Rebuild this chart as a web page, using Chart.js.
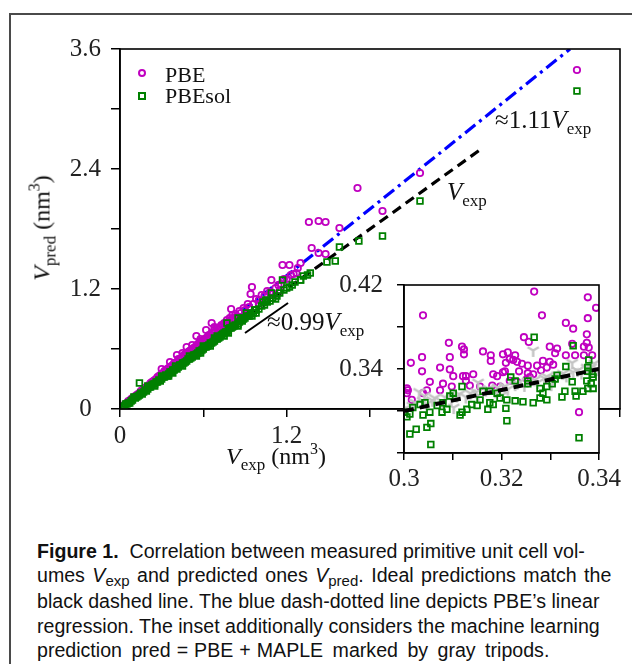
<!DOCTYPE html>
<html>
<head>
<meta charset="utf-8">
<script src="https://cdn.jsdelivr.net/npm/chart.js@4"></script>
<style>
  html,body{margin:0;padding:0;background:#fff;}
  body{width:632px;height:664px;position:relative;overflow:hidden;font-family:"Liberation Serif","Times New Roman",serif;color:#111;}
  #frame{position:absolute;left:9px;top:13px;width:800px;height:800px;border:2px solid #4a4a4a;box-sizing:border-box;}
  canvas{position:absolute;}
  .t{position:absolute;white-space:nowrap;font-family:"Liberation Serif",serif;line-height:24px;}
  .sub{font-size:17px;position:relative;top:6px;}
  .sup{font-size:16px;position:relative;top:-10px;}
  #cap{position:absolute;left:37px;top:539px;font-family:"Liberation Sans",Arial,sans-serif;font-size:19.6px;line-height:24.2px;color:#111;white-space:nowrap;}
  #cap .s{font-size:15px;position:relative;top:4px;}
  #cap .m{padding:0 6px;}
  #cap .l2{word-spacing:2px;}
  #cap .l5{word-spacing:4px;}
  .mk{position:absolute;box-sizing:border-box;}
</style>
</head>
<body>
<div id="frame"></div>
<canvas id="main" width="632" height="520" style="left:0;top:0;"></canvas>
<canvas id="inset" width="312" height="250" style="left:320px;top:256px;"></canvas>

<!-- legend -->
<div class="mk" style="left:138px;top:69px;width:8px;height:8px;border:2px solid #c000c0;border-radius:50%;"></div>
<div class="mk" style="left:138px;top:92px;width:8px;height:8px;border:2px solid #008000;"></div>
<div class="t" style="left:165px;top:63px;font-size:22px;">PBE</div>
<div class="t" style="left:165px;top:84px;font-size:22px;">PBEsol</div>

<!-- annotations -->
<div class="t" style="left:495px;top:108px;font-size:25px;">≈1.11<i>V</i><span class="sub">exp</span></div>
<div class="t" style="left:447px;top:180px;font-size:25px;"><i>V</i><span class="sub">exp</span></div>
<div class="t" style="left:267px;top:310px;font-size:25px;">≈0.99<i>V</i><span class="sub">exp</span></div>

<!-- axis titles -->
<div class="t" style="left:226px;top:444px;font-size:24px;"><i>V</i><span class="sub">exp</span> (nm<span class="sup">3</span>)</div>
<div class="t" style="left:43px;top:228px;font-size:24px;transform:translate(-50%,-50%) rotate(-90deg);"><i>V</i><span class="sub">pred</span> (nm<span class="sup">3</span>)</div>

<div id="cap"><b>Figure 1.</b>&nbsp; Correlation between measured primitive unit cell vol-<br><span class="l2">umes <i>V</i><span class="s">exp</span> and predicted ones <i>V</i><span class="s">pred</span>. Ideal predictions match the</span><br>black dashed line. The blue dash-dotted line depicts PBE’s linear<br>regression. The inset additionally considers the machine learning<br><span class="l5">prediction pred<span class="m">=</span>PBE<span class="m">+</span>MAPLE marked by gray tripods.</span></div>

<script>
// ---------------- data ----------------
const mainYTickLabels = ['0', '1.2', '2.4', '3.6'];
const mainXTickLabels = ['0', '1.2'];
const insetXTickLabels = ['0.3', '0.32', '0.34'];
const insetYTickLabels = ['0.34', '0.42'];

const pbeMain = [
 [0.03,0.04],[0.05,0.06],[0.07,0.08],[0.08,0.10],[0.10,0.12],[0.12,0.14],[0.14,0.16],[0.15,0.18],[0.17,0.20],[0.19,0.22],
 [0.21,0.24],[0.22,0.26],[0.24,0.28],[0.26,0.30],[0.27,0.32],[0.29,0.34],[0.31,0.36],[0.32,0.38],[0.34,0.40],[0.36,0.42],
 [0.37,0.43],[0.39,0.46],[0.41,0.47],[0.42,0.50],[0.44,0.51],[0.46,0.54],[0.47,0.55],[0.49,0.57],[0.51,0.59],[0.53,0.61],
 [0.55,0.63],[0.56,0.65],[0.58,0.67],[0.60,0.69],[0.62,0.71],[0.63,0.72],[0.65,0.74],[0.67,0.76],[0.69,0.78],[0.71,0.80],
 [0.72,0.82],[0.74,0.83],[0.76,0.85],[0.78,0.87],[0.80,0.89],[0.82,0.91],[0.84,0.93],[0.87,0.96],[0.90,0.99],[0.93,1.02],
 [0.96,1.05],[1.00,1.09],[1.04,1.13],[1.08,1.17],[1.12,1.21],[1.16,1.25],[1.20,1.30],[1.25,1.35],
 [0.04,0.05],[0.06,0.08],[0.09,0.11],[0.11,0.13],[0.13,0.15],[0.16,0.19],[0.18,0.21],[0.20,0.23],[0.23,0.27],[0.25,0.29],
 [0.28,0.33],[0.30,0.35],[0.33,0.39],[0.35,0.41],[0.38,0.44],[0.40,0.46],[0.43,0.50],[0.45,0.52],[0.48,0.56],[0.50,0.58],
 [0.52,0.60],[0.54,0.62],[0.57,0.66],[0.59,0.68],[0.61,0.70],[0.64,0.74],[0.66,0.76],[0.68,0.79],[0.70,0.81],[0.73,0.84],
 [0.75,0.86],[0.77,0.89],[0.79,0.91],[0.83,0.95],[0.86,0.98],[0.89,1.01],[0.92,1.05],[0.98,1.10],[1.02,1.14],[1.06,1.18],
 [1.14,1.24],[1.18,1.30],[1.23,1.34],[0.58,0.70],[0.52,0.64],[0.45,0.56],
 [0.20,0.21],[0.30,0.32],[0.40,0.43],[0.50,0.53],[0.60,0.64],[0.70,0.74],[0.80,0.85],[0.90,0.95],[1.00,1.05],[1.10,1.15],
 [0.30,0.40],[0.36,0.47],[0.41,0.54],[0.48,0.62],[0.55,0.73],[0.62,0.79],[0.66,0.86],[0.68,0.82],[0.80,1.00],[0.81,0.94],
 [0.94,1.15],[0.95,1.22],[1.09,1.29],[1.15,1.19],[1.17,1.44],[1.22,1.44],[1.27,1.36],[1.28,1.41],[1.30,1.46],[1.38,1.61],
 [1.43,1.56],[1.48,1.55],[1.36,1.87],[1.43,1.88],[1.48,1.87],[1.58,1.81],[1.71,2.21],[1.89,1.98],[2.16,2.36],[3.29,3.39]
];

const pbesolMain = [
 [0.02,0.02],[0.03,0.03],[0.05,0.05],[0.06,0.06],[0.08,0.08],[0.09,0.09],[0.11,0.11],[0.12,0.12],[0.14,0.14],[0.15,0.16],
 [0.17,0.17],[0.18,0.19],[0.20,0.20],[0.22,0.22],[0.23,0.24],[0.25,0.25],[0.27,0.27],[0.28,0.29],[0.30,0.30],[0.32,0.32],
 [0.33,0.34],[0.35,0.35],[0.37,0.37],[0.39,0.39],[0.40,0.41],[0.42,0.42],[0.44,0.44],[0.46,0.46],[0.48,0.48],[0.50,0.50],
 [0.52,0.52],[0.54,0.54],[0.56,0.56],[0.58,0.58],[0.60,0.60],[0.62,0.62],[0.64,0.64],[0.66,0.66],[0.68,0.68],[0.70,0.70],
 [0.72,0.72],[0.74,0.75],[0.76,0.77],[0.78,0.79],[0.80,0.81],[0.82,0.83],[0.85,0.85],[0.88,0.88],[0.90,0.91],[0.93,0.93],
 [0.96,0.96],[1.00,1.00],[1.04,1.04],[1.08,1.08],[1.13,1.13],[1.18,1.19],[1.24,1.24],[1.30,1.29],[1.35,1.34],
 [0.04,0.05],[0.07,0.06],[0.13,0.13],[0.16,0.15],[0.19,0.18],[0.21,0.22],[0.24,0.25],[0.26,0.27],[0.29,0.28],[0.31,0.32],
 [0.34,0.33],[0.36,0.37],[0.38,0.39],[0.41,0.40],[0.43,0.44],[0.45,0.46],[0.47,0.47],[0.49,0.50],[0.51,0.51],[0.53,0.54],
 [0.55,0.55],[0.57,0.58],[0.59,0.59],[0.61,0.62],[0.63,0.63],[0.65,0.66],[0.67,0.67],[0.69,0.70],[0.71,0.71],[0.73,0.74],
 [0.75,0.76],[0.77,0.77],[0.79,0.81],[0.81,0.82],[0.83,0.84],[0.86,0.87],[0.87,0.89],[0.89,0.90],[0.92,0.93],[0.94,0.95],
 [0.98,0.99],[1.02,1.03],[1.06,1.07],[1.10,1.11],[1.15,1.16],[1.20,1.21],[1.26,1.27],[1.32,1.33],[0.38,0.36],[0.58,0.56],
 [0.78,0.76],[0.98,0.96],[1.12,1.10],[0.68,0.71],[0.88,0.91],[1.05,1.09],
 [0.10,0.12],[0.20,0.23],[0.30,0.33],[0.40,0.43],[0.50,0.53],[0.60,0.63],[0.70,0.73],[0.25,0.23],[0.35,0.33],[0.45,0.43],
 [0.55,0.53],[0.65,0.63],[0.75,0.73],[0.85,0.83],[0.95,0.93],
 [0.14,0.26],[0.77,0.86],[0.85,0.91],[0.91,0.96],[0.97,0.99],[1.03,1.07],[1.09,1.16],[1.17,1.29],[1.22,1.22],[1.30,1.29],
 [1.37,1.36],[1.49,1.47],[1.55,1.48],[1.58,1.62],[1.72,1.68],[1.89,1.73],[2.16,2.08],[3.29,3.18]
];

const idealLineMain = [[0,0],[2.6,2.6]];
const pbeFitMain = [[0,0],[3.24,3.6]];
const pbesolFitMarker = [[0.90,0.76],[1.21,1.06]];

const pbeInset = [
 [0.3267,0.4137],[0.3377,0.4083],[0.3394,0.3983],[0.3039,0.3911],[0.3283,0.3911],[0.3377,0.3884],[0.3332,0.3839],
 [0.3347,0.3784],[0.3375,0.3730],[0.3246,0.3703],[0.3256,0.3658],[0.3092,0.3649],[0.3375,0.3649],[0.3345,0.3640],
 [0.3119,0.3613],[0.3123,0.3586],[0.3123,0.3540],[0.3162,0.3567],[0.3299,0.3613],[0.3314,0.3595],[0.3310,0.3550],
 [0.3369,0.3613],[0.3379,0.3604],[0.3037,0.3513],[0.3094,0.3513],[0.3178,0.3531],[0.3178,0.3477],[0.3203,0.3540],
 [0.3213,0.3558],[0.3228,0.3531],[0.3217,0.3495],[0.3014,0.3459],[0.3209,0.3459],[0.3224,0.3486],[0.3232,0.3468],
 [0.3242,0.3450],[0.3254,0.3432],[0.3273,0.3432],[0.3285,0.3477],[0.3299,0.3468],[0.3306,0.3441],[0.3293,0.3414],
 [0.3281,0.3387],[0.3332,0.3531],[0.3351,0.3531],[0.3369,0.3531],[0.3386,0.3531],[0.3074,0.3414],[0.3094,0.3396],
 [0.3101,0.3332],[0.3037,0.3378],[0.3191,0.3332],[0.3183,0.3350],[0.3203,0.3369],[0.3207,0.3378],[0.3236,0.3378],
 [0.3254,0.3360],[0.3265,0.3350],[0.3127,0.3332],[0.3142,0.3350],[0.3127,0.3287],[0.3121,0.3332],[0.3053,0.3278],
 [0.3080,0.3260],[0.3098,0.3233],[0.3074,0.3197],[0.3047,0.3197],[0.3039,0.3170],[0.3008,0.3197],[0.3006,0.3170],
 [0.3016,0.3106],[0.3135,0.3242],[0.3156,0.3233],[0.3162,0.3188],[0.3181,0.3242],[0.3197,0.3233],[0.3217,0.3287],
 [0.3232,0.3278],[0.3252,0.3305],[0.3258,0.3323],[0.3359,0.2989],[0.3006,0.3215]
];

const pbesolInset = [
 [0.3267,0.3703],[0.3347,0.3622],[0.3379,0.3486],[0.3332,0.3423],[0.3377,0.3414],[0.3377,0.3378],[0.3386,0.3350],
 [0.3388,0.3323],[0.3375,0.3287],[0.3384,0.3260],[0.3377,0.3215],[0.3388,0.3215],[0.3219,0.3323],[0.3228,0.3287],
 [0.3254,0.3287],[0.3254,0.3260],[0.3314,0.3341],[0.3310,0.3305],[0.3304,0.3260],[0.3293,0.3233],[0.3279,0.3215],
 [0.3285,0.3170],[0.3345,0.3278],[0.3351,0.3188],[0.3353,0.3142],[0.3367,0.3188],[0.3330,0.3188],[0.3324,0.3133],
 [0.3293,0.3106],[0.3279,0.3124],[0.3265,0.3079],[0.3244,0.3088],[0.3228,0.3097],[0.3211,0.3106],[0.3197,0.3124],
 [0.3191,0.3170],[0.3176,0.3188],[0.3162,0.3188],[0.3156,0.3106],[0.3176,0.3079],[0.3183,0.3061],[0.3172,0.3016],
 [0.3209,0.3025],[0.3211,0.2907],[0.3119,0.3233],[0.3101,0.3170],[0.3094,0.3142],[0.3080,0.3079],[0.3068,0.3052],
 [0.3078,0.2989],[0.3088,0.3016],[0.3119,0.2989],[0.3129,0.3016],[0.3139,0.3061],[0.3150,0.3052],[0.3115,0.2962],
 [0.3053,0.2989],[0.3047,0.2844],[0.3055,0.2880],[0.3039,0.2962],[0.3033,0.3061],[0.3043,0.3079],[0.3018,0.3034],
 [0.3012,0.2971],[0.3006,0.2944],[0.3002,0.2989],[0.3025,0.2826],[0.3012,0.2781],[0.3055,0.2681],[0.3359,0.2745]
];

const maplInset = [
 [0.3004,0.3028],[0.3017,0.3051],[0.3023,0.3079],[0.3038,0.3097],[0.3046,0.3066],[0.3058,0.3102],[0.3063,0.3124],
 [0.3079,0.3088],[0.3084,0.3131],[0.3097,0.3112],[0.3108,0.3142],[0.3113,0.3161],[0.3127,0.3133],[0.3136,0.3170],
 [0.3148,0.3181],[0.3152,0.3149],[0.3168,0.3199],[0.3173,0.3212],[0.3187,0.3183],[0.3192,0.3224],[0.3207,0.3236],
 [0.3213,0.3208],[0.3228,0.3251],[0.3233,0.3266],[0.3247,0.3244],[0.3253,0.3283],[0.3268,0.3297],[0.3274,0.3271],
 [0.3288,0.3312],[0.3293,0.3327],[0.3306,0.3303],[0.3314,0.3341],[0.3326,0.3356],[0.3333,0.3334],[0.3347,0.3371],
 [0.3356,0.3386],[0.3364,0.3362],[0.3376,0.3402],[0.3384,0.3417],[0.3396,0.3394],
 [0.3265,0.3577],[0.3345,0.3459],[0.3375,0.3414],[0.3042,0.3143],[0.3102,0.3033],[0.3201,0.3152],[0.3302,0.3251],
 [0.3390,0.3452],[0.3031,0.3182],[0.3152,0.3271]
];
const idealLineInset = [[0.3,0.3],[0.34,0.34]];

// ---------------- helpers ----------------
const toXY = arr => arr.map(p => ({x: p[0], y: p[1]}));
const PURPLE = '#c000c0', GREEN = '#008000';
const tickFont = {family: 'Liberation Serif', size: 25};

function makeTripod(){
  const c = document.createElement('canvas'); c.width = 15; c.height = 15;
  const g = c.getContext('2d'); g.strokeStyle = '#c3c3c3'; g.lineWidth = 2.4;
  const cx = 7.5, cy = 7.5, L = 6.5;
  g.beginPath();
  g.moveTo(cx, cy); g.lineTo(cx, cy + L);
  g.moveTo(cx, cy); g.lineTo(cx - L*0.866, cy - L*0.5);
  g.moveTo(cx, cy); g.lineTo(cx + L*0.866, cy - L*0.5);
  g.stroke();
  return c;
}

const framePlugin = {
  id: 'frameBox',
  afterDatasetsDraw(chart){
    const {ctx, chartArea: a} = chart;
    ctx.save(); ctx.strokeStyle = '#000'; ctx.lineWidth = 1.6;
    ctx.strokeRect(a.left, a.top, a.right - a.left, a.bottom - a.top);
    ctx.restore();
  }
};
const whiteBg = {
  id: 'whiteBg',
  beforeDraw(chart){
    const {ctx, chartArea: a} = chart;
    ctx.save(); ctx.fillStyle = '#fff';
    ctx.fillRect(a.left, a.top, a.right - a.left, a.bottom - a.top);
    ctx.restore();
  }
};

function near(v, s){ return Math.abs(v - parseFloat(s)) < 1e-6; }

// ---------------- main chart ----------------
new Chart(document.getElementById('main'), {
  type: 'scatter',
  data: {
    datasets: [
      {label:'PBEsol', data: toXY(pbesolMain), order: 0, pointStyle:'rect', pointRadius: 4, borderWidth: 1.8,
       borderColor: GREEN, backgroundColor: 'rgba(0,0,0,0)'},
      {label:'PBE', data: toXY(pbeMain), order: 1, pointStyle:'circle', pointRadius: 3.2, borderWidth: 1.8,
       borderColor: PURPLE, backgroundColor: 'rgba(0,0,0,0)'},
      {label:'ideal', data: toXY(idealLineMain), order: 3, showLine: true, pointRadius: 0, borderWidth: 3.2,
       borderColor: '#000', borderDash: [10, 6]},
      {label:'fit', data: toXY(pbeFitMain), order: 4, showLine: true, pointRadius: 0, borderWidth: 3.2,
       borderColor: '#0000ff', borderDash: [13, 5, 3, 5]},
      {label:'marker', data: toXY(pbesolFitMarker), order: 2, showLine: true, pointRadius: 0, borderWidth: 2,
       borderColor: '#000'}
    ]
  },
  options: {
    responsive: false, animation: false, devicePixelRatio: 1,
    layout: {padding: {left: 60, top: 49, right: 12, bottom: 51}},
    plugins: {legend: {display: false}, tooltip: {enabled: false}},
    scales: {
      x: {type: 'linear', min: 0, max: 3.6,
          afterFit: s => { s.height = 60; },
          ticks: {stepSize: 0.6, font: tickFont, color: '#222', padding: 4, maxRotation: 0, autoSkip: false,
                  callback: v => { const l = mainXTickLabels.find(s => near(v, s)); return l === undefined ? '' : l; }},
          grid: {drawOnChartArea: false, drawTicks: true, tickLength: 8, color: '#000', lineWidth: 1.5},
          border: {display: true, color: '#000', width: 1.6}},
      y: {type: 'linear', min: 0, max: 3.6,
          afterFit: s => { s.width = 60; },
          ticks: {stepSize: 0.6, font: tickFont, color: '#222', padding: 10, crossAlign: 'center', autoSkip: false,
                  callback: v => { const l = mainYTickLabels.find(s => near(v, s)); return l === undefined ? '' : l; }},
          grid: {drawOnChartArea: false, drawTicks: true, tickLength: 9, color: '#000', lineWidth: 1.5},
          border: {display: true, color: '#000', width: 1.6}}
    }
  },
  plugins: [framePlugin]
});

// ---------------- inset chart ----------------
new Chart(document.getElementById('inset'), {
  type: 'scatter',
  data: {
    datasets: [
      {label:'ideal', data: toXY(idealLineInset), order: -1, showLine: true, pointRadius: 0, borderWidth: 4,
       borderColor: '#000', borderDash: [10, 6]},
      {label:'PBEsol', data: toXY(pbesolInset), order: 0, pointStyle:'rect', pointRadius: 4, borderWidth: 1.8,
       borderColor: GREEN, backgroundColor: 'rgba(0,0,0,0)'},
      {label:'PBE+MAPLE', data: toXY(maplInset), order: 1, pointStyle: makeTripod(), pointRadius: 6},
      {label:'PBE', data: toXY(pbeInset), order: 2, pointStyle:'circle', pointRadius: 3.2, borderWidth: 1.8,
       borderColor: PURPLE, backgroundColor: 'rgba(0,0,0,0)'}
    ]
  },
  options: {
    responsive: false, animation: false, devicePixelRatio: 1,
    layout: {padding: {left: 4, top: 20, right: 33, bottom: 13}},
    plugins: {legend: {display: false}, tooltip: {enabled: false}},
    scales: {
      x: {type: 'linear', min: 0.3, max: 0.34,
          afterFit: s => { s.height = 40; },
          ticks: {stepSize: 0.01, font: tickFont, color: '#222', padding: 4, maxRotation: 0, autoSkip: false,
                  callback: v => { const l = insetXTickLabels.find(s => near(v, s)); return l === undefined ? '' : l; }},
          grid: {drawOnChartArea: false, drawTicks: true, tickLength: 7, color: '#000', lineWidth: 1.5},
          border: {display: true, color: '#000', width: 1.6}},
      y: {type: 'linear', min: 0.26, max: 0.42,
          afterFit: s => { s.width = 80; },
          ticks: {stepSize: 0.04, font: tickFont, color: '#222', padding: 14, autoSkip: false,
                  callback: v => { const l = insetYTickLabels.find(s => near(v, s)); return l === undefined ? '' : l; }},
          grid: {drawOnChartArea: false, drawTicks: true, tickLength: 7, color: '#000', lineWidth: 1.5},
          border: {display: true, color: '#000', width: 1.6}}
    }
  },
  plugins: [whiteBg, framePlugin]
});
</script>
</body>
</html>
